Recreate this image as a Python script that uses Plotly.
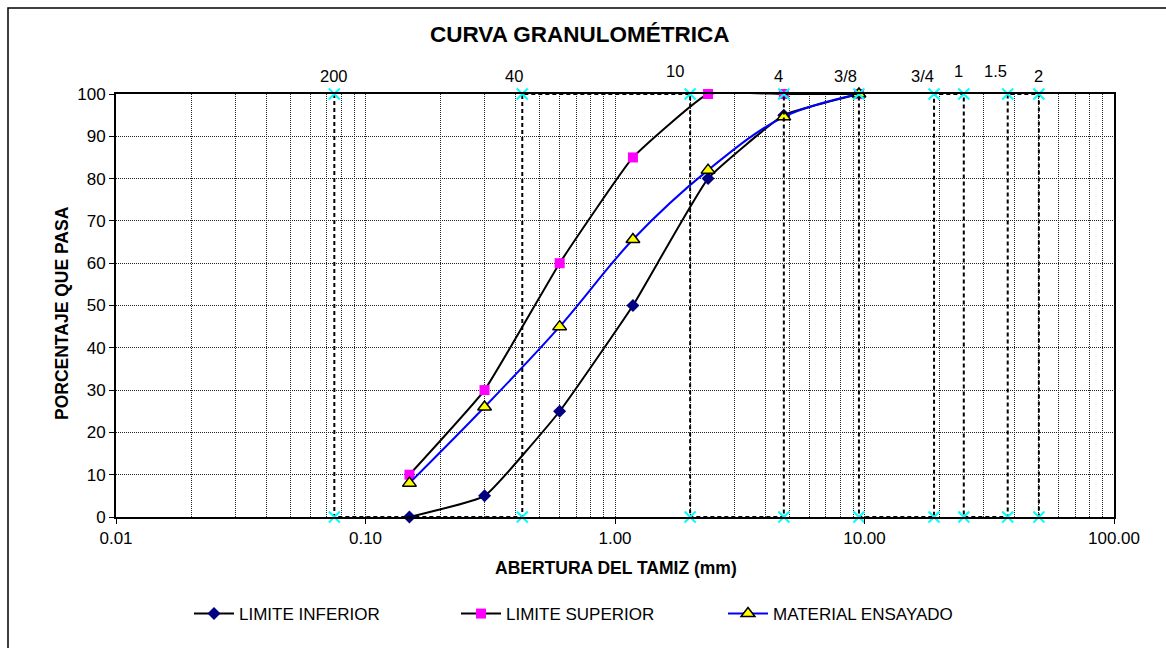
import plotly.graph_objects as go
import numpy as np

# ---- data ----
sieve_names = ["200", "40", "10", "4", "3/8", "3/4", "1", "1.5", "2"]
sieve_mm = [0.075, 0.425, 2.0, 4.75, 9.5, 19.0, 25.0, 37.5, 50.0]

aperture_mm = [0.15, 0.30, 0.60, 1.18, 2.36, 4.75, 9.5]
limite_inferior = [0, 5, 25, 50, 80, 95, 100]
limite_superior = [10, 30, 60, 85, 100, 100, 100]
material_ensayado = [8, 26, 45, 65.6, 82, 94.6, 100]

x_tick_vals = [0.01, 0.1, 1, 10, 100]
x_tick_text = ["0.01", "0.10", "1.00", "10.00", "100.00"]

# label pixel nudges (style only)
label_dx = [0, -8, -15, -5, -13, -12, -5, -12, 0]
label_dy = [0, 0, 5, 0, 0, 0, 5, 5, 0]

FONT = "Liberation Sans, Arial, sans-serif"

# zig-zag path for sieve reference lines (0 -> 100 -> 100 -> 0 ...)
sx, sy = [], []
for i, s in enumerate(sieve_mm):
    if i % 2 == 0:
        sx += [s, s]; sy += [100, 0]
    else:
        sx += [s, s]; sy += [0, 100]

fig = go.Figure()

fig.add_trace(go.Scatter(
    x=aperture_mm, y=limite_inferior, name="LIMITE INFERIOR",
    mode="lines+markers", line=dict(color="black", width=2, shape="spline", smoothing=0.35),
    marker=dict(symbol="diamond", size=10, color="#000080"), cliponaxis=False))
fig.add_trace(go.Scatter(
    x=aperture_mm, y=limite_superior, name="LIMITE SUPERIOR",
    mode="lines+markers", line=dict(color="black", width=2, shape="spline", smoothing=0.35),
    marker=dict(symbol="square", size=10, color="#FF00FF"), cliponaxis=False))
fig.add_trace(go.Scatter(
    x=aperture_mm, y=material_ensayado, name="MATERIAL ENSAYADO",
    mode="lines+markers", line=dict(color="#0000FF", width=2, shape="spline", smoothing=1),
    marker=dict(symbol="triangle-up", size=12, color="#FFFF00", line=dict(color="black", width=1.5)),
    cliponaxis=False))
fig.add_trace(go.Scatter(
    x=sx, y=sy, name="TAMICES", showlegend=False,
    mode="lines+markers", line=dict(color="black", width=2, dash="4px,3px"),
    marker=dict(symbol="x-thin", size=11, line=dict(color="#00FFFF", width=2)),
    cliponaxis=False))

W, H = 1166, 648
L, R, T, B = 116, 52, 94, 131
pw, ph = W - L - R, H - T - B

def px_to_paper_x(px):
    return (px - L) / pw

def px_to_paper_y(py):
    return (H - B - py) / ph

annotations = []
for name, s, dx, dy in zip(sieve_names, sieve_mm, label_dx, label_dy):
    annotations.append(dict(
        x=np.log10(s), xref="x", y=1, yref="paper", text=name, showarrow=False,
        xanchor="center", yanchor="bottom", xshift=dx, yshift=7 + dy,
        font=dict(family=FONT, size=16.5, color="black")))

annotations.append(dict(
    x=px_to_paper_x(580), xref="paper", y=px_to_paper_y(35), yref="paper",
    text="<b>CURVA GRANULOMÉTRICA</b>", showarrow=False, xanchor="center", yanchor="middle",
    font=dict(family=FONT, size=22.5, color="black")))
annotations.append(dict(
    x=px_to_paper_x(616), xref="paper", y=px_to_paper_y(568), yref="paper",
    text="<b>ABERTURA DEL TAMIZ (mm)</b>", showarrow=False, xanchor="center", yanchor="middle",
    font=dict(family=FONT, size=17.5, color="black")))
annotations.append(dict(
    x=px_to_paper_x(62), xref="paper", y=px_to_paper_y(313), yref="paper", textangle=-90,
    text="<b>PORCENTAJE QUE PASA</b>", showarrow=False, xanchor="center", yanchor="middle",
    font=dict(family=FONT, size=17.5, color="black")))

shapes = [dict(type="rect", xref="paper", yref="paper",
               x0=px_to_paper_x(8), x1=px_to_paper_x(1180),
               y0=px_to_paper_y(680), y1=px_to_paper_y(8),
               line=dict(color="black", width=1.5), fillcolor="rgba(0,0,0,0)", layer="below")]

fig.update_layout(
    width=W, height=H, margin=dict(l=L, r=R, t=T, b=B),
    paper_bgcolor="white", plot_bgcolor="white",
    font=dict(family=FONT, size=17, color="black"),
    annotations=annotations, shapes=shapes,
    showlegend=True,
    legend=dict(orientation="h", x=px_to_paper_x(189), y=px_to_paper_y(614),
                xanchor="left", yanchor="middle", font=dict(family=FONT, size=17),
                entrywidth=212, itemwidth=40, bgcolor="rgba(0,0,0,0)"),
)

fig.update_xaxes(
    type="log", range=[-2, 2], tickvals=x_tick_vals, ticktext=x_tick_text,
    showline=True, linecolor="black", linewidth=2, mirror=True,
    ticks="outside", ticklen=5, tickcolor="black",
    showgrid=True, gridcolor="#222", griddash="1px,1px", gridwidth=1,
    minor=dict(showgrid=True, gridcolor="#222", griddash="1px,1px", gridwidth=1, dtick="D1"),
    zeroline=False, tickfont=dict(family=FONT, size=17))
fig.update_yaxes(
    range=[0, 100], dtick=10, tick0=0,
    showline=True, linecolor="black", linewidth=2, mirror=True,
    ticks="outside", ticklen=5, tickcolor="black",
    showgrid=True, gridcolor="#222", griddash="1px,1px", gridwidth=1,
    zeroline=False, tickfont=dict(family=FONT, size=17))

fig.write_html("out.html")
